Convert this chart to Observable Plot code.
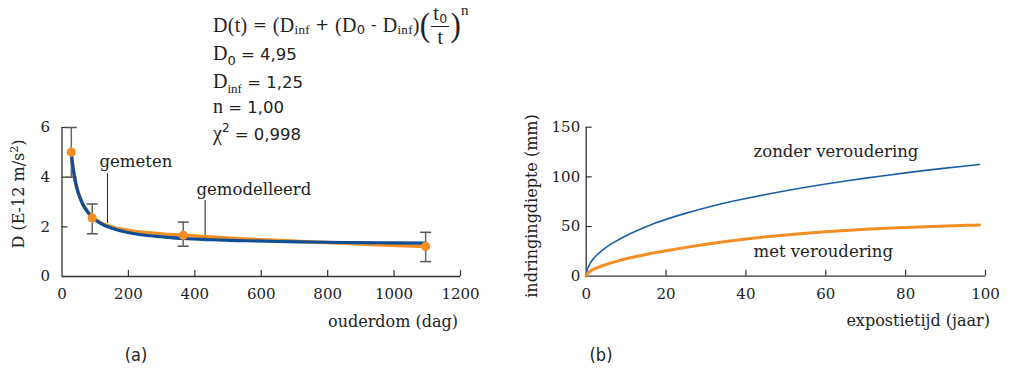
<!DOCTYPE html>
<html><head><meta charset="utf-8">
<script src="https://cdn.jsdelivr.net/npm/d3@7"></script>
<script src="https://cdn.jsdelivr.net/npm/@observablehq/plot@0.6"></script>
<style>
body{margin:0;background:#fff;}
#wrap{position:relative;width:1014px;height:368px;overflow:hidden;font-family:"DejaVu Serif",serif;color:#222;}
#wrap svg{position:absolute;top:0;}
.abs{position:absolute;white-space:nowrap;line-height:16px;font-size:16px;}
.ser{font-family:"Liberation Serif",serif;font-size:20px;}
.san{font-family:"DejaVu Sans",sans-serif;font-size:16.5px;}
.sub{font-size:13px;position:relative;top:5px;}
.sup{font-size:12px;position:relative;top:-8px;}
.frac{display:inline-flex;flex-direction:column;align-items:center;vertical-align:middle;font-family:"Liberation Serif",serif;font-size:20px;line-height:17px;margin:0 1px;}
.frac .num{border-bottom:1px solid #222;padding:0 2px 2px 2px;}
.frac .den{padding-top:2px;}
.big{font-family:"Liberation Serif",serif;font-size:31px;display:inline-block;vertical-align:middle;transform:scaleY(1.12);}
.fl{position:absolute;white-space:nowrap;left:213px;line-height:20px;}
.panel{font-family:"Liberation Sans Narrow","DejaVu Sans Condensed",sans-serif;font-size:18px;}
</style></head><body><div id="wrap"></div>
<script>
// ---- panel (a): diffusion coefficient vs age ----
const ageDays   = [28, 91, 365, 1095];
const measuredD = [5.0, 2.36, 1.66, 1.21];
const measuredLo = [4.0, 1.72, 1.22, 0.60];
const measuredHi = [6.0, 2.92, 2.19, 1.78];
const curveT    = [28, 32, 36, 40, 45, 50, 60, 70, 80, 91, 105, 120, 140, 160, 185, 215, 250, 300, 365, 450, 550, 650, 750, 850, 950, 1095];
const modelD    = [4.95, 4.49, 4.13, 3.84, 3.55, 3.32, 2.98, 2.73, 2.55, 2.39, 2.24, 2.11, 1.99, 1.90, 1.81, 1.73, 1.66, 1.60, 1.53, 1.48, 1.44, 1.41, 1.39, 1.37, 1.36, 1.34];
const fittedD   = [5.0, 4.52, 4.15, 3.86, 3.57, 3.34, 3.0, 2.76, 2.57, 2.37, 2.25, 2.14, 2.04, 1.96, 1.89, 1.82, 1.77, 1.71, 1.66, 1.59, 1.51, 1.45, 1.39, 1.34, 1.28, 1.21];
const ageTicks  = [0, 200, 400, 600, 800, 1000, 1200];
const dTicks    = [0, 2, 4, 6];
const annoLabel = ["gemeten", "gemodelleerd"];
const annoTextT = [113, 405];
const annoTextD = [4.62, 3.5];
const annoLineT = [137, 431];
const annoLineTop = [4.14, 3.06];
const annoLineBot = [2.13, 1.53];

// ---- panel (b): penetration depth vs exposure time ----
const years        = [0, 0.25, 0.5, 1, 2, 3, 4, 5, 6.5, 8, 10, 12.5, 15, 17.5, 20, 25, 30, 35, 40, 45, 50, 55, 60, 65, 70, 75, 80, 85, 90, 95, 98.5];
const depthWithout = [0, 6.5, 9, 13, 18.5, 22.5, 26, 29, 33, 36.5, 40.8, 45.5, 49.8, 53.7, 57.2, 63.5, 69, 74, 78.3, 82.3, 86, 89.5, 92.8, 95.8, 98.7, 101.4, 104, 106.5, 108.8, 111, 112.5];
const depthWith    = [0, 2.2, 3.3, 5, 7.3, 9, 10.5, 11.8, 13.7, 15.4, 17.5, 19.8, 21.9, 23.8, 25.6, 29, 32.1, 34.9, 37.4, 39.6, 41.5, 43.2, 44.7, 46, 47.2, 48.2, 49.1, 49.9, 50.6, 51.2, 51.6];
const yearTicks  = [0, 20, 40, 60, 80, 100];
const depthTicks = [0, 50, 100, 150];
const seriesLabels = ["zonder veroudering", "met veroudering"];
const labelT = [41.9, 41.9];
const labelV = [125, 24.5];

const BLUE_A = "#0d4e94", ORANGE = "#f28e24", BLUE_B = "#1b5ea8", AXIS = "#333";

const measured = ageDays.map((t, i) => ({t, d: measuredD[i], lo: measuredLo[i], hi: measuredHi[i]}));
const model = curveT.map((t, i) => ({t, d: modelD[i]}));
const fitted = curveT.map((t, i) => ({t, d: fittedD[i]}));
const annos = annoLabel.map((label, i) => ({label, tx: annoTextT[i], ty: annoTextD[i], t: annoLineT[i], top: annoLineTop[i], bot: annoLineBot[i]}));
const capSymbol = {draw(ctx, size) { const r = Math.sqrt(size / Math.PI); ctx.moveTo(-r, 0); ctx.lineTo(r, 0); }};

const H = 368;
const A = {w: 500, ml: 61.5, mr: 40, mt: 127, mb: 92};
const aFW = A.w - A.ml - A.mr, aFH = H - A.mt - A.mb;
const fmt = d => String(d);

const plotA = Plot.plot({
  width: A.w, height: H, marginLeft: A.ml, marginRight: A.mr, marginTop: A.mt, marginBottom: A.mb,
  x: {domain: [0, d3.max(ageTicks)], label: null},
  y: {domain: [0, d3.max(dTicks)], label: null},
  style: {fontFamily: "DejaVu Serif", fontSize: "15px", color: "#222", background: "transparent", overflow: "visible"},
  marks: [
    Plot.axisX(ageTicks, {tickSize: 0, tickPadding: 12, tickFormat: fmt, fontSize: 15, label: null}),
    Plot.axisY(dTicks, {tickSize: 0, tickPadding: 12, tickFormat: fmt, fontSize: 15, label: null}),
    Plot.tickX(ageTicks.filter(v => v > 0), {x: d => d, insetTop: aFH - 6, stroke: AXIS, strokeWidth: 1.2}),
    Plot.tickY(dTicks.filter(v => v > 0), {y: d => d, insetRight: aFW - 6, stroke: AXIS, strokeWidth: 1.2}),
    Plot.ruleX([0], {y1: 0, y2: d3.max(dTicks), stroke: AXIS, strokeWidth: 1.3}),
    Plot.ruleY([0], {x1: 0, x2: d3.max(ageTicks), stroke: AXIS, strokeWidth: 1.3}),
    Plot.ruleX(annos, {x: "t", y1: "bot", y2: "top", stroke: AXIS, strokeWidth: 1.1}),
    Plot.text(annos, {x: "tx", y: "ty", text: "label", textAnchor: "start", fontSize: 16.5, fill: "#222"}),
    Plot.ruleX(measured, {x: "t", y1: "lo", y2: "hi", stroke: "#666", strokeWidth: 1.5}),
    Plot.dot(measured, {x: "t", y: "lo", symbol: capSymbol, r: 5.5, stroke: "#555", strokeWidth: 1.5, fill: "none"}),
    Plot.dot(measured, {x: "t", y: "hi", symbol: capSymbol, r: 5.5, stroke: "#555", strokeWidth: 1.5, fill: "none"}),
    Plot.line(fitted, {x: "t", y: "d", stroke: ORANGE, strokeWidth: 3.5, curve: "monotone-x"}),
    Plot.line(model, {x: "t", y: "d", stroke: BLUE_A, strokeWidth: 3.2, curve: "monotone-x"}),
    Plot.dot(measured, {x: "t", y: "d", r: 4.6, fill: ORANGE, stroke: "none"})
  ]
});
plotA.style.left = "0px";

const B = {w: 514, ml: 85.7, mr: 29, mt: 126.7, mb: 92.3};
const bFW = B.w - B.ml - B.mr, bFH = H - B.mt - B.mb;
const rowsWithout = years.map((t, i) => ({t, v: depthWithout[i]}));
const rowsWith = years.map((t, i) => ({t, v: depthWith[i]}));
const labels = seriesLabels.map((label, i) => ({label, t: labelT[i], v: labelV[i]}));

const plotB = Plot.plot({
  width: B.w, height: H, marginLeft: B.ml, marginRight: B.mr, marginTop: B.mt, marginBottom: B.mb,
  x: {domain: [0, d3.max(yearTicks)], label: null},
  y: {domain: [0, d3.max(depthTicks)], label: null},
  style: {fontFamily: "DejaVu Serif", fontSize: "15px", color: "#222", background: "transparent", overflow: "visible"},
  marks: [
    Plot.axisX(yearTicks, {tickSize: 0, tickPadding: 12, tickFormat: fmt, fontSize: 15, label: null}),
    Plot.axisY(depthTicks, {tickSize: 0, tickPadding: 6, tickFormat: fmt, fontSize: 15, label: null}),
    Plot.tickX(yearTicks.filter(v => v > 0), {x: d => d, insetTop: bFH - 6, stroke: AXIS, strokeWidth: 1.2}),
    Plot.tickY(depthTicks.filter(v => v > 0), {y: d => d, insetRight: bFW - 6, stroke: AXIS, strokeWidth: 1.2}),
    Plot.ruleX([0], {y1: 0, y2: d3.max(depthTicks), stroke: AXIS, strokeWidth: 1.3}),
    Plot.ruleY([0], {x1: 0, x2: d3.max(yearTicks), stroke: AXIS, strokeWidth: 1.3}),
    Plot.line(rowsWithout, {x: "t", y: "v", stroke: BLUE_B, strokeWidth: 1.6, curve: "monotone-x"}),
    Plot.line(rowsWith, {x: "t", y: "v", stroke: ORANGE, strokeWidth: 3, curve: "monotone-x"}),
    Plot.text(labels, {x: "t", y: "v", text: "label", textAnchor: "start", fontSize: 16.5, fill: "#222"})
  ]
});
plotB.style.left = "500px";

const wrap = document.getElementById("wrap");
wrap.appendChild(plotA);
wrap.appendChild(plotB);

const html = `
<div class="abs" style="left:20px;top:194px;transform:translate(-50%,-50%) rotate(-90deg);">D (E-12 m/s<span style="font-size:11px;position:relative;top:-6px;">2</span>)</div>
<div class="abs" style="left:532px;top:206px;transform:translate(-50%,-50%) rotate(-90deg);">indringingdiepte (mm)</div>
<div class="abs" style="left:458px;top:313.5px;transform:translateX(-100%);">ouderdom (dag)</div>
<div class="abs" style="left:990px;top:312.5px;transform:translateX(-100%);">expostietijd (jaar)</div>
<div class="abs panel" style="left:136px;top:355px;transform:translate(-50%,-50%);">(a)</div>
<div class="abs panel" style="left:601px;top:355px;transform:translate(-50%,-50%);">(b)</div>
<div class="fl" style="top:2px;height:46px;display:flex;align-items:center;letter-spacing:0.3px;">
  <span class="ser">D(t)</span><span class="san">&nbsp;=&nbsp;</span><span class="ser">(D</span><span class="ser sub">inf</span><span class="san">&nbsp;+&nbsp;</span><span class="ser">(D</span><span class="san sub">0</span><span class="san">&nbsp;-&nbsp;</span><span class="ser">D</span><span class="ser sub">inf</span><span class="ser">)</span><span class="big">(</span><span class="frac"><span class="num">t<span class="san" style="font-size:12.5px;position:relative;top:3px;">0</span></span><span class="den">t</span></span><span class="big">)</span><span class="ser sup" style="font-size:15px;top:-15px;">n</span>
</div>
<div class="fl" style="top:43px;"><span class="ser">D</span><span class="san sub">0</span><span class="san"> = 4,95</span></div>
<div class="fl" style="top:71px;"><span class="ser">D</span><span class="ser sub">inf</span><span class="san"> = 1,25</span></div>
<div class="fl" style="top:96px;"><span class="ser">n</span><span class="san"> = 1,00</span></div>
<div class="fl" style="top:123px;"><span class="ser">χ</span><span class="san sup">2</span><span class="san"> = 0,998</span></div>
`;
wrap.insertAdjacentHTML("beforeend", html);
</script>
</body></html>
